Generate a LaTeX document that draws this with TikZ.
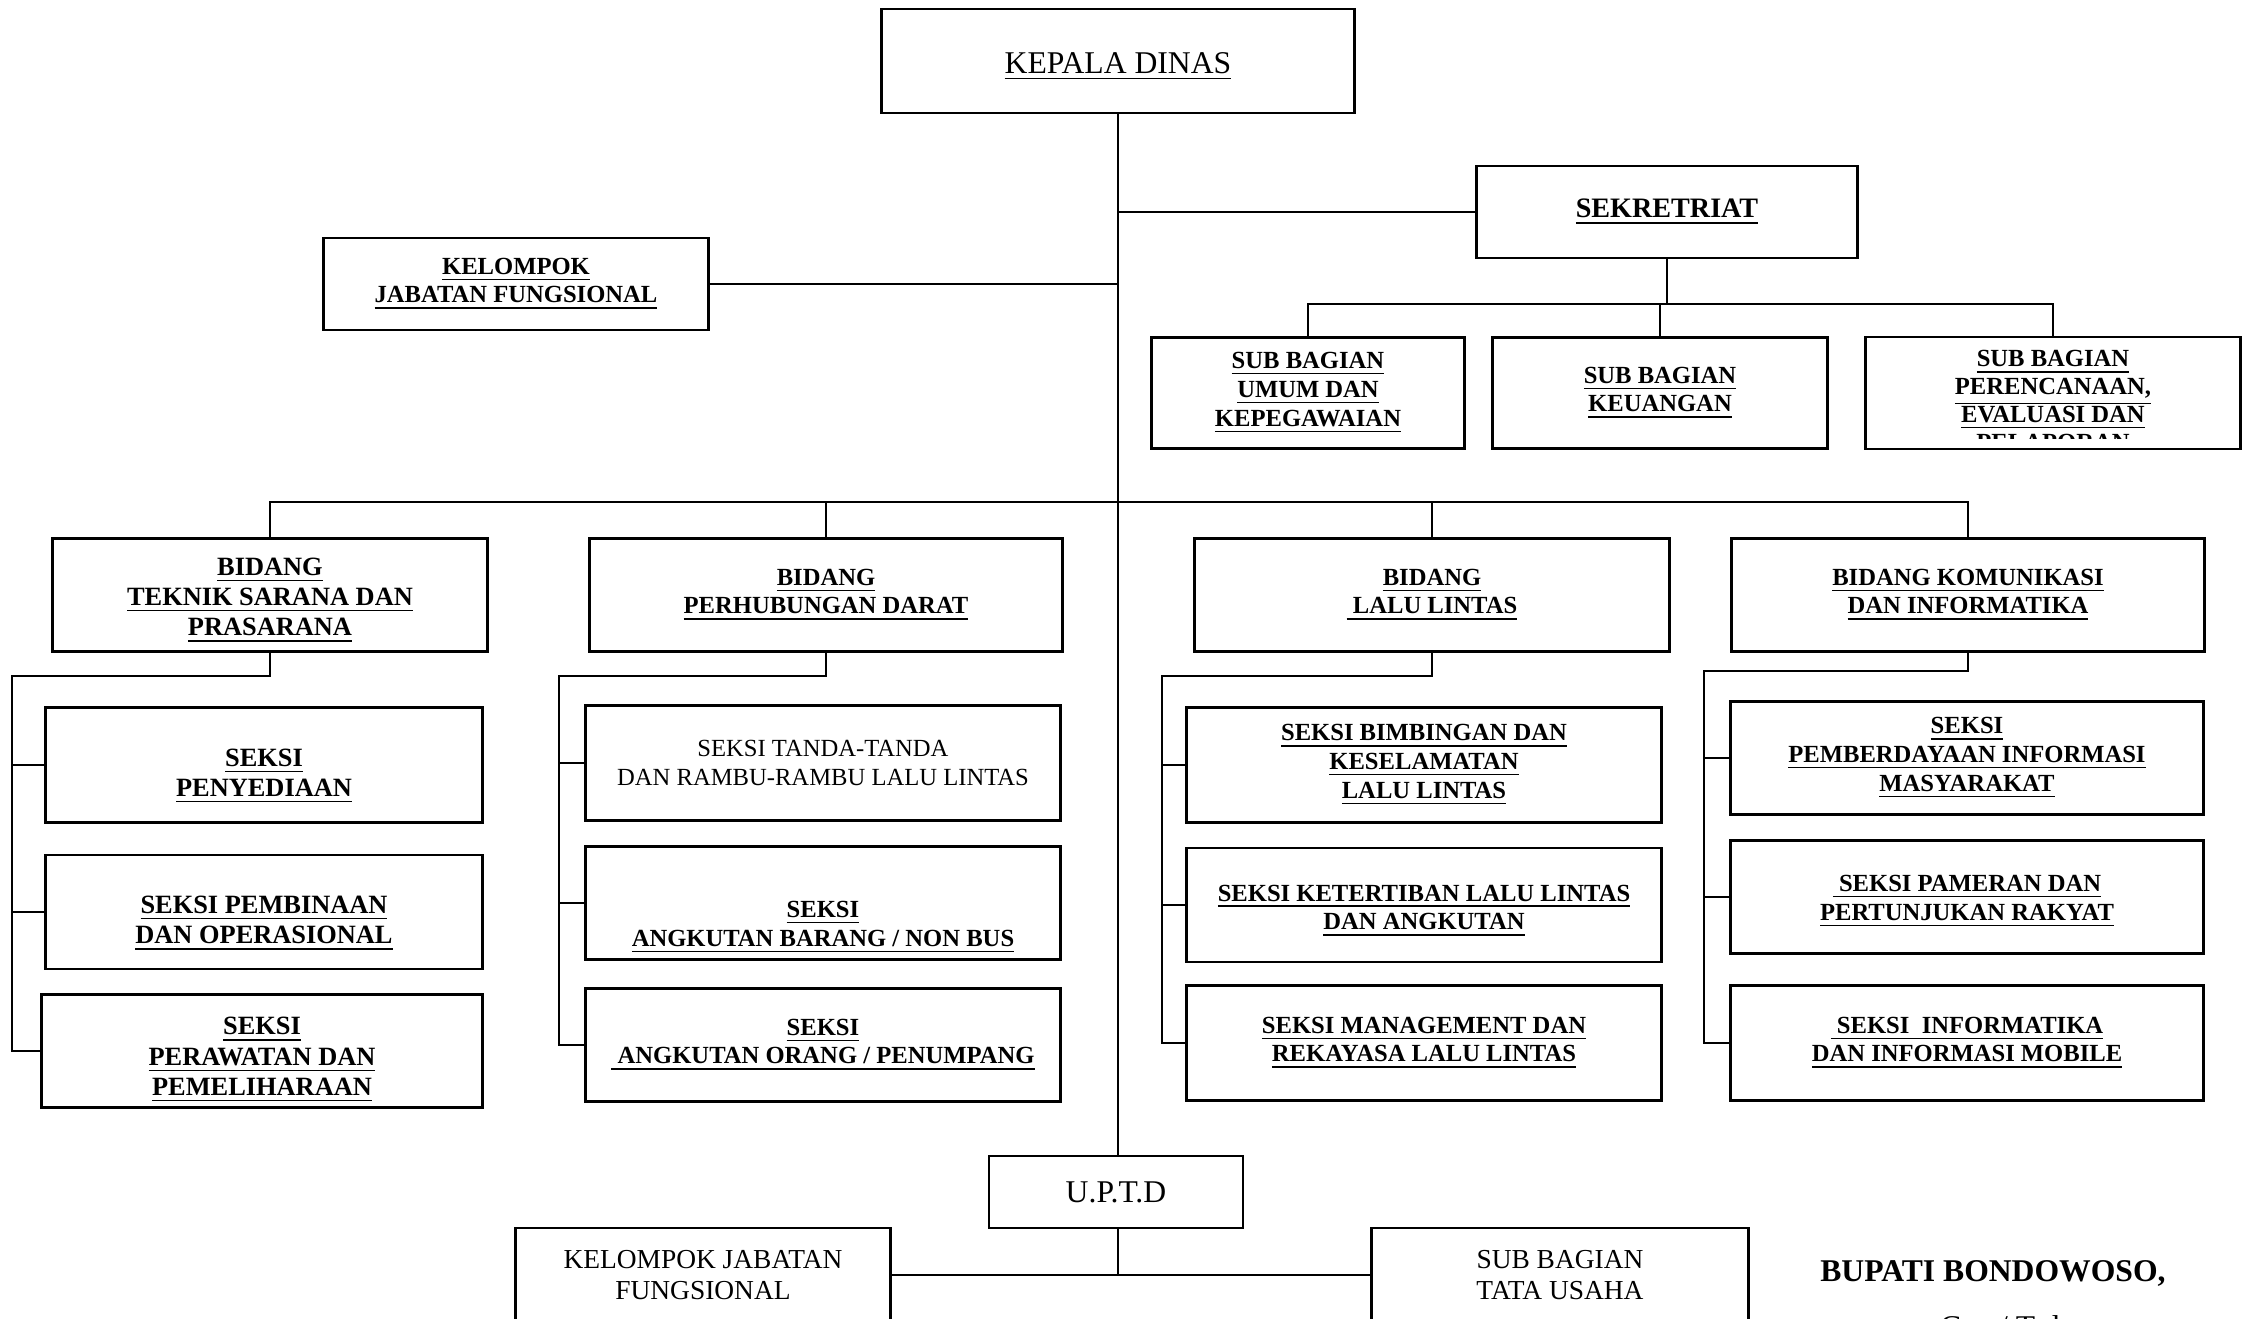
\documentclass[tikz,border=0pt]{standalone}
\usepackage{fontspec}
\setmainfont{Liberation Serif}
\newcommand{\garis}[1]{\underline{#1}}
\newcommand{\turun}[1]{\rule{0pt}{#1}}

\begin{document}
\begin{tikzpicture}[x=0.01cm, y=-0.01cm,
			kotak/.style={rectangle, draw=black, line width=0.8pt, align=center, inner sep=0pt},
			tebal/.style={kotak, font=\bfseries\fontsize{7}{8.2}\selectfont},
			besar/.style={kotak, font=\bfseries\fontsize{7.5}{8.6}\selectfont},
			biasa/.style={kotak, font=\fontsize{7}{8.2}\selectfont},
			sambung/.style={line width=0.7pt}]
			\useasboundingbox (0,0) rectangle (2247,1319);
			% pimpinan dan sekretariat
			\node[kotak, minimum width=4.73cm, minimum height=1.04cm, font=\fontsize{9}{11}\selectfont] (kadis) at (1118,61) {\garis{\turun{9pt}KEPALA DINAS}};
			\node[tebal, minimum width=3.80cm, minimum height=0.92cm, font=\bfseries\fontsize{8}{9.5}\selectfont] (sek) at (1667,212) {\garis{SEKRETRIAT}};
			\node[tebal, minimum width=3.84cm, minimum height=0.92cm] (kjf) at (516,284) {\garis{KELOMPOK}\\\garis{JABATAN FUNGSIONAL}};
			\node[tebal, minimum width=3.13cm, minimum height=1.11cm] (sb1) at (1308,393) {\garis{SUB BAGIAN}\\\garis{UMUM DAN}\\\garis{KEPEGAWAIAN}};
			\node[tebal, minimum width=3.35cm, minimum height=1.11cm] (sb2) at (1660,393) {\garis{SUB BAGIAN}\\\garis{KEUANGAN}};
			\node[tebal, minimum width=3.74cm, minimum height=1.12cm] (sb3) at (2053,393) {};
			\begin{scope}
				\clip (1866,337) rectangle (2240,439);
				\node[font=\bfseries\fontsize{7}{7.9}\selectfont, align=center, inner sep=0pt] (sb3teks) at (2053,404) {\garis{SUB BAGIAN}\\\garis{PERENCANAAN,}\\\garis{EVALUASI DAN}\\\garis{PELAPORAN}};
			\end{scope}
			% bidang
			\node[besar, minimum width=4.35cm, minimum height=1.13cm] (bd1) at (270,595) {\garis{\turun{8pt}BIDANG}\\\garis{TEKNIK SARANA DAN}\\\garis{PRASARANA}};
			\node[tebal, minimum width=4.73cm, minimum height=1.13cm] (bd2) at (826,595) {\garis{BIDANG}\\\garis{PERHUBUNGAN DARAT}};
			\node[tebal, minimum width=4.74cm, minimum height=1.13cm] (bd3) at (1432,595) {\garis{BIDANG}\\\garis{~LALU LINTAS}};
			\node[tebal, minimum width=4.73cm, minimum height=1.13cm] (bd4) at (1968,595) {\garis{BIDANG KOMUNIKASI}\\\garis{DAN INFORMATIKA}};
			% seksi
			\node[besar, minimum width=4.37cm, minimum height=1.15cm] (s11) at (264,765) {\garis{\turun{11.5pt}SEKSI}\\\garis{PENYEDIAAN}};
			\node[besar, minimum width=4.37cm, minimum height=1.14cm] (s12) at (264,912) {\garis{\turun{11.5pt}SEKSI PEMBINAAN}\\\garis{DAN OPERASIONAL}};
			\node[besar, minimum width=4.41cm, minimum height=1.13cm] (s13) at (262,1051) {\garis{\turun{10pt}SEKSI}\\\garis{PERAWATAN DAN}\\\garis{PEMELIHARAAN}};
			\node[biasa, minimum width=4.74cm, minimum height=1.15cm] (s21) at (823,763) {SEKSI TANDA-TANDA\\DAN RAMBU-RAMBU LALU LINTAS};
			\node[tebal, minimum width=4.74cm, minimum height=1.13cm] (s22) at (823,903) {\garis{\turun{18.5pt}SEKSI}\\\garis{ANGKUTAN BARANG / NON BUS}};
			\node[tebal, minimum width=4.74cm, minimum height=1.13cm] (s23) at (823,1045) {\garis{SEKSI}\\\garis{~ANGKUTAN ORANG / PENUMPANG}};
			\node[tebal, minimum width=4.74cm, minimum height=1.15cm] (s31) at (1424,765) {\garis{SEKSI BIMBINGAN DAN}\\\garis{KESELAMATAN}\\\garis{LALU LINTAS}};
			\node[tebal, minimum width=4.74cm, minimum height=1.14cm] (s32) at (1424,905) {\garis{\turun{8pt}SEKSI KETERTIBAN LALU LINTAS}\\\garis{DAN ANGKUTAN}};
			\node[tebal, minimum width=4.74cm, minimum height=1.15cm] (s33) at (1424,1043) {\garis{SEKSI MANAGEMENT DAN}\\\garis{REKAYASA LALU LINTAS}};
			\node[tebal, minimum width=4.73cm, minimum height=1.13cm] (s41) at (1967,758) {\garis{SEKSI}\\\garis{PEMBERDAYAAN INFORMASI}\\\garis{MASYARAKAT}};
			\node[tebal, minimum width=4.73cm, minimum height=1.13cm] (s42) at (1967,897) {\garis{\turun{7pt}~SEKSI PAMERAN DAN}\\\garis{PERTUNJUKAN RAKYAT}};
			\node[tebal, minimum width=4.73cm, minimum height=1.15cm] (s43) at (1967,1043) {\garis{~SEKSI~~INFORMATIKA}\\\garis{DAN INFORMASI MOBILE}};
			% uptd
			\node[kotak, minimum width=2.54cm, minimum height=0.72cm, font=\fontsize{9}{11}\selectfont] (uptd) at (1116,1192) {U.P.T.D};
			\node[kotak, minimum width=3.75cm, minimum height=0.94cm, font=\fontsize{7.8}{8.6}\selectfont] (kjf2) at (703,1275) {KELOMPOK JABATAN\\FUNGSIONAL};
			\node[kotak, minimum width=3.77cm, minimum height=0.94cm, font=\fontsize{7.8}{8.6}\selectfont] (tu) at (1560,1275) {SUB BAGIAN\\TATA USAHA};
			\node[font=\bfseries\fontsize{9}{11}\selectfont] (bupati) at (1993,1273) {BUPATI BONDOWOSO,};
			\node[font=\fontsize{9}{11}\selectfont, anchor=base] (ttd) at (2000,1338) {Cap / Ttd};
			% titik cabang
			\coordinate (cabang) at (1118,502);
			\coordinate (cabangsb) at (1665,304);
			\coordinate (k1) at (12,676);
			\coordinate (k2) at (559,676);
			\coordinate (k3) at (1162,676);
			\coordinate (k4) at (1704,671);
			\begin{scope}[sambung]
				\draw (kadis.south) -- (kadis.south |- uptd.north);
				\draw (sek.west) -- (sek.west -| kadis.south);
				\draw (kjf.east) -- (kjf.east -| kadis.south);
				\draw (sek.south) -- (sek.south |- cabangsb);
				\draw (sb1.north) |- (cabangsb) -| (sb3.north);
				\draw (sb2.north) -- (sb2.north |- cabangsb);
				\draw (bd1.north) |- (cabang) -| (bd4.north);
				\draw (bd2.north) -- (bd2.north |- cabang);
				\draw (bd3.north) -- (bd3.north |- cabang);
				\foreach \b in {1,...,4} {
					\draw (bd\b.south) |- (k\b) -- (k\b |- s\b3.west) -- (s\b3.west);
					\draw (k\b |- s\b1.west) -- (s\b1.west);
					\draw (k\b |- s\b2.west) -- (s\b2.west);
				}
				\draw (kadis.south |- uptd.south) -- (kadis.south |- kjf2.east);
				\draw (kjf2.east) -- (tu.west);
			\end{scope}
		\end{tikzpicture}
\end{document}
